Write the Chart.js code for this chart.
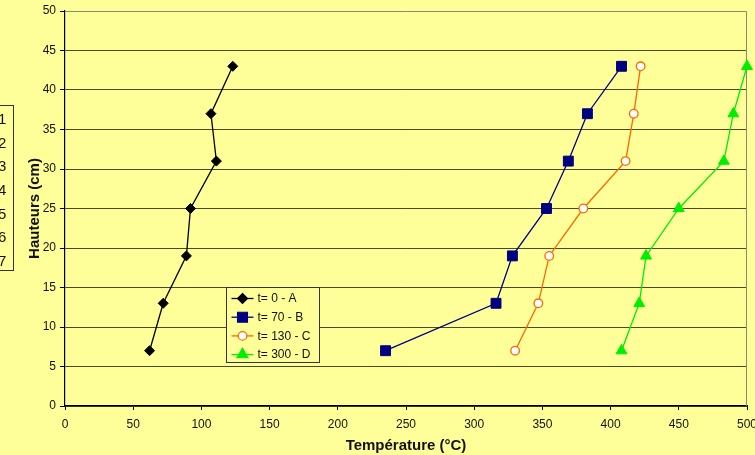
<!DOCTYPE html>
<html><head><meta charset="utf-8">
<script src="https://cdn.jsdelivr.net/npm/chart.js@4/dist/chart.umd.min.js"></script>
<style>
html,body{margin:0;padding:0;background:#FFFF99;}
#wrap{position:relative;width:755px;height:455px;overflow:hidden;background:#FFFF99;font-family:"Liberation Sans",Arial,sans-serif;}
#c{position:absolute;left:0;top:0;}
#tbl{position:absolute;left:-2px;top:105px;width:16px;height:166px;padding-top:1px;box-sizing:border-box;border:1px solid #333;border-left:none;}
#tbl div{height:23.7px;line-height:23.7px;font-size:15px;color:#111;text-align:left;}
</style></head><body>
<div id="wrap"><canvas id="c" width="755" height="455"></canvas>
<div id="tbl"><div>1</div><div>2</div><div>3</div><div>4</div><div>5</div><div>6</div><div>7</div></div>
</div>
<script>
const heights = [7, 13, 19, 25, 31, 37, 43];
const tempA = [62, 72, 89, 92, 111, 107, 123];
const tempB = [235, 316, 328, 353, 369, 383, 408];
const tempC = [330, 347, 355, 380, 411, 417, 422];
const tempD = [408, 421, 426, 450, 483, 490, 500];
const seriesLabels = ['t= 0 - A', 't= 70 - B', 't= 130 - C', 't= 300 - D'];
const xTicks = [0, 50, 100, 150, 200, 250, 300, 350, 400, 450, 500];
const yTicks = [0, 5, 10, 15, 20, 25, 30, 35, 40, 45, 50];

function pts(xs){ return xs.map((x,i)=>({x:x, y:heights[i]})); }

const styles = [
  {color:'#000000', style:'rectRot', r:5, fill:'#000000'},
  {color:'#000080', style:'rect', r:7, fill:'#000080'},
  {color:'#FF6600', style:'circle', r:4.3, fill:'#FFFFFF'},
  {color:'#00EE00', style:'triangle', r:6.3, fill:'#00EE00'}
];
const allTemps = [tempA, tempB, tempC, tempD];

const datasets = allTemps.map((t,i)=>({
  label: seriesLabels[i],
  data: pts(t),
  borderColor: styles[i].color,
  backgroundColor: styles[i].fill,
  pointBorderColor: styles[i].color,
  pointBackgroundColor: styles[i].fill,
  pointStyle: styles[i].style,
  pointRadius: styles[i].r,
  pointBorderWidth: i===2 ? 1.3 : 1,
  borderWidth: 1.3,
  showLine: true,
  clip: false,
  tension: 0
}));

function drawMarker(ctx, st, x, y){
  ctx.save();
  ctx.fillStyle = st.fill; ctx.strokeStyle = st.color; ctx.lineWidth = 1.2;
  ctx.beginPath();
  const r = st.r;
  if(st.style==='rectRot'){ ctx.moveTo(x,y-r);ctx.lineTo(x+r,y);ctx.lineTo(x,y+r);ctx.lineTo(x-r,y);ctx.closePath(); }
  else if(st.style==='rect'){ const h=r*Math.SQRT1_2; ctx.rect(x-h,y-h,2*h,2*h); }
  else if(st.style==='circle'){ ctx.arc(x,y,r,0,Math.PI*2); }
  else { ctx.moveTo(x,y-r);ctx.lineTo(x+r*0.866,y+r*0.5);ctx.lineTo(x-r*0.866,y+r*0.5);ctx.closePath(); }
  ctx.fill(); ctx.stroke();
  ctx.restore();
}

const frame = {
  id:'frame',
  beforeDatasetsDraw(chart){
    const {ctx, chartArea:a} = chart;
    ctx.save();
    ctx.strokeStyle = '#8a8a6a'; ctx.lineWidth = 1;
    ctx.beginPath();
    ctx.moveTo(a.left, a.top+0.5); ctx.lineTo(a.right-0.5, a.top+0.5); ctx.lineTo(a.right-0.5, a.bottom);
    ctx.stroke();
    ctx.restore();
  },
  afterDatasetsDraw(chart){
    const ctx = chart.ctx;
    const bx=226.5, by=287.5, bw=93, bh=75;
    ctx.save();
    ctx.fillStyle='#FFFF99'; ctx.fillRect(bx,by,bw,bh);
    ctx.strokeStyle='#333'; ctx.lineWidth=1; ctx.strokeRect(bx,by,bw,bh);
    ctx.font = '12px "Liberation Sans", Arial, sans-serif';
    ctx.textBaseline='middle'; ctx.fillStyle='#111';
    chart.data.datasets.forEach((ds,i)=>{
      const y = by + 11 + i*18.7;
      ctx.strokeStyle = styles[i].color; ctx.lineWidth=1.3;
      ctx.beginPath(); ctx.moveTo(bx+5,y); ctx.lineTo(bx+27,y); ctx.stroke();
      drawMarker(ctx, styles[i], bx+16, y);
      ctx.fillStyle='#111';
      ctx.fillText(ds.label, bx+31, y+0.5);
    });
    ctx.restore();
  }
};

new Chart(document.getElementById('c'), {
  type:'scatter',
  data:{datasets},
  plugins:[frame],
  options:{
    responsive:false, animation:false,
    layout:{padding:{left:26,right:8,top:11,bottom:0}},
    plugins:{legend:{display:false}, tooltip:{enabled:false}},
    scales:{
      x:{
        type:'linear', min:0, max:500,
        afterBuildTicks(s){ s.ticks = xTicks.map(v=>({value:v})); },
        afterFit(s){ s.height = 49; s.paddingRight = 0; s.paddingLeft = 0; },
        grid:{drawOnChartArea:false, color:'#000', tickLength:4, tickColor:'#000'},
        border:{color:'#000', width:1.2},
        ticks:{color:'#111', font:{family:'"Liberation Sans", Arial', size:12}, padding:7, maxRotation:0},
        title:{display:true, text:'Température (°C)', color:'#111', font:{family:'"Liberation Sans", Arial', size:15, weight:'bold'}, padding:{top:5,bottom:0}}
      },
      y:{
        type:'linear', min:0, max:50,
        afterBuildTicks(s){ s.ticks = yTicks.map(v=>({value:v})); },
        afterFit(s){ s.width = 39; s.paddingTop = 0; s.paddingBottom = 0; },
        grid:{color:(c)=> c.tick && c.tick.value===50 ? 'rgba(0,0,0,0)' : '#4a4a2a', lineWidth:1, tickLength:5, tickColor:'#000'},
        border:{color:'#000', width:1.2},
        ticks:{color:'#111', font:{family:'"Liberation Sans", Arial', size:12}, padding:4},
        title:{display:true, text:'Hauteurs (cm)', color:'#111', font:{family:'"Liberation Sans", Arial', size:15, weight:'bold'}, padding:{top:0,bottom:0}}
      }
    }
  }
});
</script>
</body></html>
